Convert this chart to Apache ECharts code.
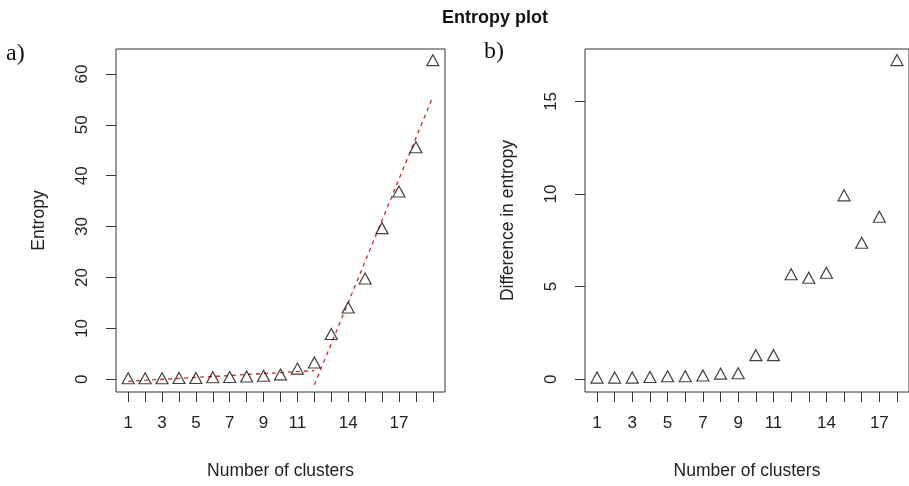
<!DOCTYPE html>
<html>
<head>
<meta charset="utf-8">
<script src="https://cdn.jsdelivr.net/npm/echarts@6/dist/echarts.min.js"></script>
<style>
html,body{margin:0;padding:0;background:#fff;}
#c{width:909px;height:486px;}
</style>
</head>
<body>
<div id="c"></div>
<script>
// ---- data ----
var clusters = [1,2,3,4,5,6,7,8,9,10,11,12,13,14,15,16,17,18,19];
var entropy = [0.2,0.2,0.2,0.25,0.25,0.4,0.45,0.55,0.7,0.95,2.1,3.3,8.9,14.1,19.8,29.7,36.9,45.6,62.7];
var diffClusters = [1,2,3,4,5,6,7,8,9,10,11,12,13,14,15,16,17,18];
var diffEntropy = [0.09,0.09,0.09,0.12,0.16,0.16,0.2,0.3,0.32,1.3,1.3,5.67,5.48,5.75,9.93,7.37,8.77,17.23];
// piecewise fit (red dashed), two segments
var fitSeg1X = [1, 12];
var fitSeg1Y = [-0.4, 1.7];
var fitSeg2X = [12, 19];
var fitSeg2Y = [-1.1, 55.5];
var xTicks = [1,2,3,4,5,6,7,8,9,10,11,12,13,14,15,16,17,18,19];
var xTickLabels = [1,3,5,7,9,11,14,17];
var yTicksLeft = [0,10,20,30,40,50,60];
var yTicksRight = [0,5,10,15];

function pairs(xs, ys){ return xs.map(function(x,i){ return [x, ys[i]]; }); }

var FONT = 'Liberation Sans, Arial, sans-serif';
var AX = '#333';
var LBL = { fontFamily: FONT, fontSize: 17, color: '#222' };

function xAxisDef(gi, min, max){
  return {
    type: 'value', gridIndex: gi, min: min, max: max, position: 'bottom',
    name: 'Number of clusters', nameLocation: 'middle', nameGap: 70,
    nameTextStyle: { fontFamily: FONT, fontSize: 17.5, color: '#222' },
    axisLine: { show: false, onZero: false },
    splitLine: { show: false },
    axisTick: { show: true, inside: false, length: 10, lineStyle: { color: AX, width: 1 }, customValues: xTicks },
    axisLabel: Object.assign({ margin: 23, customValues: xTickLabels }, LBL)
  };
}
function yAxisDef(gi, min, max, ticks, name){
  return {
    type: 'value', gridIndex: gi, min: min, max: max, position: 'left',
    name: name, nameLocation: 'middle', nameGap: 68,
    nameTextStyle: { fontFamily: FONT, fontSize: 17.5, color: '#222' },
    axisLine: { show: false, onZero: false },
    splitLine: { show: false },
    axisTick: { show: true, inside: false, length: 10, lineStyle: { color: AX, width: 1 }, customValues: ticks },
    axisLabel: Object.assign({ margin: 25, rotate: 90, customValues: ticks }, LBL)
  };
}

var triStyle = { color: 'rgba(0,0,0,0)', borderColor: '#111', borderWidth: 1.2 };
var dashStyle = { color: '#cc2a2a', width: 1.3, type: [4, 4] };

var option = {
  animation: false,
  backgroundColor: '#fff',
  title: {
    text: 'Entropy plot', left: 437, top: 4,
    textStyle: { fontFamily: FONT, fontSize: 18, fontWeight: 'bold', color: '#111' }
  },
  graphic: [
    { type: 'text', left: 6, top: 42, style: { text: 'a)', font: '24px "Liberation Serif", serif', fill: '#111' } },
    { type: 'text', left: 484, top: 40, style: { text: 'b)', font: '24px "Liberation Serif", serif', fill: '#111' } }
  ],
  grid: [
    { left: 116, top: 49, width: 329, height: 343, show: true, borderColor: AX, borderWidth: 1, backgroundColor: 'rgba(0,0,0,0)' },
    { left: 585, top: 49, width: 330, height: 343, show: true, borderColor: AX, borderWidth: 1, backgroundColor: 'rgba(0,0,0,0)' }
  ],
  xAxis: [ xAxisDef(0, 0.28, 19.72), xAxisDef(1, 0.32, 18.68) ],
  yAxis: [
    yAxisDef(0, -2.5, 64.9, yTicksLeft, 'Entropy'),
    yAxisDef(1, -0.69, 17.83, yTicksRight, 'Difference in entropy')
  ],
  series: [
    { type: 'line', xAxisIndex: 0, yAxisIndex: 0, data: pairs(fitSeg1X, fitSeg1Y), showSymbol: false, symbol: 'none', lineStyle: dashStyle, z: 2 },
    { type: 'line', xAxisIndex: 0, yAxisIndex: 0, data: pairs(fitSeg2X, fitSeg2Y), showSymbol: false, symbol: 'none', lineStyle: dashStyle, z: 2 },
    { type: 'scatter', xAxisIndex: 0, yAxisIndex: 0, data: pairs(clusters, entropy), symbol: 'triangle', symbolSize: [12, 11], itemStyle: triStyle, z: 3 },
    { type: 'scatter', xAxisIndex: 1, yAxisIndex: 1, data: pairs(diffClusters, diffEntropy), symbol: 'triangle', symbolSize: [12, 11], itemStyle: triStyle, z: 3 }
  ]
};
var chart = echarts.init(document.getElementById('c'), null, { renderer: 'canvas' });
chart.setOption(option);
</script>
</body>
</html>
